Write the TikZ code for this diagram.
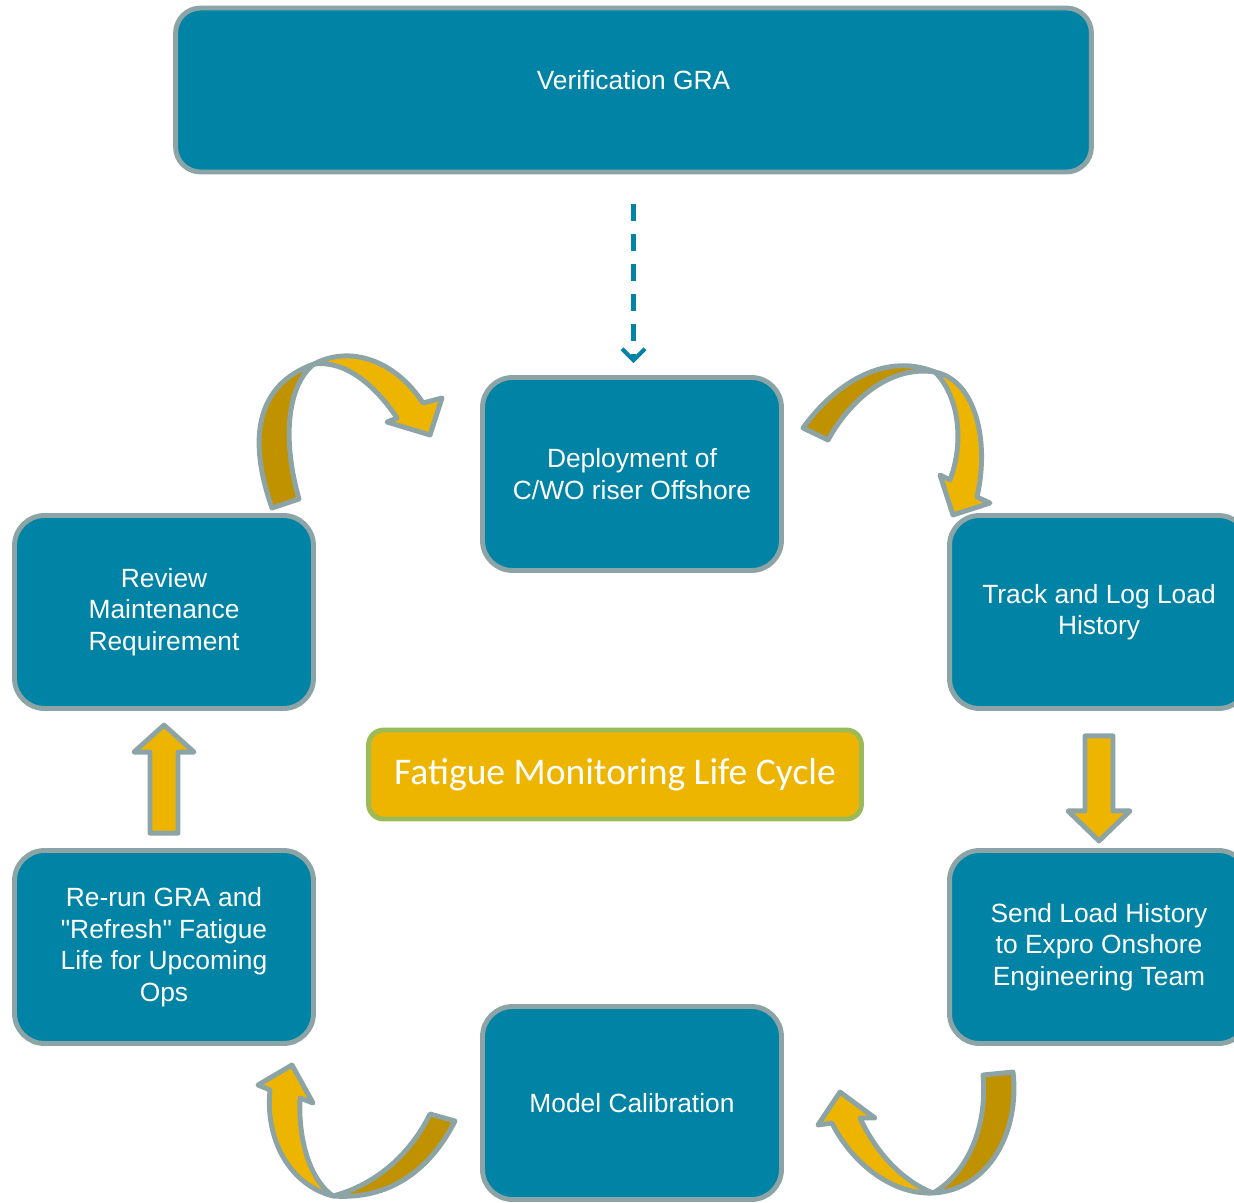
\documentclass[tikz,border=0pt]{standalone}
\usepackage{fontspec}
\setmainfont{Liberation Sans}
\newfontfamily\titlefont{Carlito}
\usetikzlibrary{calc,arrows.meta}
\definecolor{boxteal}{RGB}{0,131,164}
\definecolor{rimgray}{RGB}{140,164,166}
\definecolor{lightgold}{RGB}{238,181,0}
\definecolor{darkgold}{RGB}{192,146,0}
\definecolor{titlegreen}{RGB}{155,187,89}

\begin{document}
\begin{tikzpicture}[x=0.02cm, y=-0.02cm,
    stage/.style={rectangle, rounded corners=0.6cm, draw=rimgray, line width=2.8pt, fill=boxteal,
        text=white, align=center, inner sep=0pt, minimum width=5.98cm, minimum height=3.86cm,
        font=\fontsize{15}{18}\selectfont},
    flow/.style={draw=rimgray, line width=2.8pt, line join=round},
    dashto/.style={draw=boxteal, line width=2.3pt, dash pattern=on 0.34cm off 0.26cm,
        -{Straight Barb[length=6.5pt, width=13pt]}}]
    \useasboundingbox (0,0) rectangle (1234,1203);
    \clip (0,0) rectangle (1234,1203);

    % boxes
    \node[stage, rounded corners=0.5cm, minimum width=18.32cm, minimum height=3.28cm, text depth=0.4cm]
        (verif) at (633.5,90) {Verification GRA};
    \node[stage] (deploy) at (632,474) {Deployment of\\C/WO riser Offshore};
    \node[stage] (track) at (1099,612) {Track and Log Load\\History};
    \node[stage] (send) at (1099,947) {Send Load History\\to Expro Onshore\\Engineering Team};
    \node[stage] (calib) at (632,1103) {Model Calibration};
    \node[stage] (rerun) at (164,947) {Re-run GRA and\\\textquotedbl Refresh\textquotedbl{} Fatigue\\Life for Upcoming\\Ops};
    \node[stage] (review) at (164,612) {Review\\Maintenance\\Requirement};
    \node[rectangle, rounded corners=0.3cm, draw=titlegreen, line width=2.8pt, fill=lightgold,
        text=white, minimum width=9.86cm, minimum height=1.78cm, inner sep=0pt,
        font=\titlefont\fontsize{21.4}{24}\selectfont]
        (title) at (615,774.5) {Fatigue Monitoring Life Cycle};

    % dashed link
    \draw[dashto, shorten <=0.59cm, shorten >=0.24cm] (verif.south) -- (verif.south |- deploy.north);

    % straight block arrows
    \draw[flow, fill=lightgold] ($(track.south)+(-14,25)$) -- ++(28,0) -- ++(0,75) -- ++(17,0)
        -- ++(-31,30) -- ++(-31,-30) -- ++(17,0) -- cycle;
    \draw[flow, fill=lightgold] ($(rerun.north)+(-14,-15)$) -- ++(28,0) -- ++(0,-81) -- ++(16,0)
        -- ++(-30,-27) -- ++(-30,27) -- ++(16,0) -- cycle;

    % curved arrows
    \draw[flow, fill=darkgold] (272,508) .. controls (248,440) and (255,385) .. (314,364)
        .. controls (287,385) and (282,440) .. (299,499) -- cycle;
    \draw[flow, fill=lightgold] (314,364) .. controls (350,345) and (395,360) .. (423,403)
        -- (442,398) -- (430,435) -- (387,422) -- (397,418)
        .. controls (375,385) and (345,360) .. (314,364) -- cycle;

    \draw[flow, fill=darkgold] (803,428) .. controls (830,390) and (880,350) .. (935,372)
        .. controls (890,365) and (850,400) .. (828,440) -- cycle;
    \draw[flow, fill=lightgold] (935,372) .. controls (975,380) and (990,440) .. (977,497)
        -- (990,503) -- (953,515) -- (940,475) -- (950,480)
        .. controls (965,440) and (958,395) .. (935,372) -- cycle;

    \draw[flow, fill=darkgold] (983,1075) -- (1013,1072) .. controls (1020,1130) and (990,1190) .. (933,1193)
        .. controls (965,1175) and (988,1130) .. (983,1075) -- cycle;
    \draw[flow, fill=lightgold] (933,1193) .. controls (890,1195) and (850,1160) .. (832,1123)
        -- (818,1125) -- (840,1092) -- (875,1118) -- (860,1118)
        .. controls (875,1150) and (900,1180) .. (933,1193) -- cycle;

    \draw[flow, fill=darkgold] (430,1114) -- (455,1121) .. controls (430,1170) and (390,1200) .. (333,1196)
        .. controls (375,1185) and (410,1155) .. (430,1114) -- cycle;
    \draw[flow, fill=lightgold] (333,1196) .. controls (290,1185) and (265,1140) .. (270,1090)
        -- (258,1085) -- (292,1065) -- (313,1103) -- (300,1098)
        .. controls (298,1140) and (310,1180) .. (333,1196) -- cycle;
\end{tikzpicture}
\end{document}
